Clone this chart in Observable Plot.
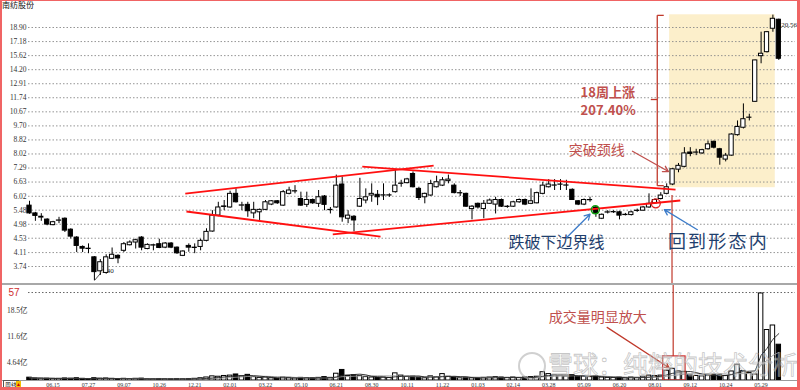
<!DOCTYPE html>
<html><head><meta charset="utf-8">
<script src="https://cdn.jsdelivr.net/npm/d3@7"></script>
<script src="https://cdn.jsdelivr.net/npm/@observablehq/plot@0.6"></script>
<style>
html,body{margin:0;padding:0;background:#fff;}
#wrap{position:relative;width:800px;height:390px;overflow:hidden;background:#fff;}
#wrap svg{position:absolute;left:0;}
.abs{position:absolute;}
</style></head><body>
<div id="wrap"></div>
<script>
// ---- data (weekly bars, index 0..127) ----
const open = [5.65,5.36,5.21,5.14,4.95,5.10,5.17,4.80,4.55,4.27,4.22,3.98,3.62,3.58,3.94,4.02,4.16,4.32,4.40,4.55,
4.21,4.31,4.35,4.25,4.37,4.25,4.02,4.30,4.24,4.27,4.45,4.74,5.28,5.60,5.58,6.12,5.65,5.68,5.36,5.40,
5.49,5.69,5.82,5.65,6.12,6.22,5.91,5.68,5.87,5.72,6.01,5.48,5.58,6.52,5.17,5.24,5.61,5.85,6.05,6.08,
6.05,6.05,6.19,6.55,6.58,7.00,6.33,5.98,6.05,6.40,6.47,6.67,6.47,6.14,6.12,5.52,5.72,5.52,5.72,5.69,
5.87,5.60,5.61,5.78,5.87,5.72,5.74,6.12,6.40,6.47,6.51,6.47,6.29,5.82,5.69,5.86,5.58,5.17,5.39,5.40,
5.40,5.30,5.30,5.45,5.46,5.58,5.74,5.91,6.12,6.52,7.21,7.35,8.10,8.09,8.05,8.28,8.71,8.28,7.72,7.93,
9.11,9.58,10.25,11.42,15.56,15.99,18.74,19.92];
const high = [5.82,5.40,5.35,5.17,5.08,5.22,5.20,4.83,4.58,4.30,4.36,4.00,3.92,4.05,4.24,4.05,4.40,4.45,4.50,4.58,
4.36,4.35,4.50,4.40,4.40,4.27,4.16,4.36,4.36,4.50,4.83,5.46,5.78,5.85,6.23,6.33,5.78,5.78,5.78,5.52,
5.85,5.85,5.85,6.26,6.40,6.47,6.19,6.19,5.91,6.26,6.05,5.58,6.95,6.86,5.46,5.28,6.80,6.33,6.55,6.26,
6.55,6.12,7.23,6.71,6.80,7.10,6.40,6.15,6.71,6.90,6.83,6.95,6.55,6.26,6.15,5.65,5.75,5.85,5.91,5.98,
5.91,5.65,5.82,5.91,5.91,6.33,6.19,6.62,6.74,6.74,6.74,6.71,6.33,5.85,5.91,5.98,5.62,5.34,5.46,5.46,
5.44,5.36,5.44,5.52,5.62,6.12,5.91,6.17,6.55,7.27,7.52,8.37,8.37,8.28,8.28,8.75,8.75,8.33,8.05,9.20,
10.03,11.26,10.50,15.15,18.31,18.40,20.56,20.00];
const low = [5.33,5.08,5.08,4.93,4.93,5.00,4.71,4.51,4.11,4.11,4.08,3.40,3.52,3.55,3.92,3.81,4.11,4.30,4.21,4.16,
4.19,4.16,4.22,4.22,4.22,4.06,4.00,4.12,4.08,4.16,4.42,4.72,5.24,5.46,5.55,5.75,5.46,5.22,5.17,5.11,
5.46,5.65,5.70,5.62,6.08,6.12,5.62,5.58,5.70,5.58,5.46,5.34,5.55,5.05,5.00,4.73,5.58,5.72,5.78,5.65,
5.85,5.98,6.15,6.40,6.55,6.37,5.85,5.72,6.02,6.37,6.43,6.55,6.12,6.01,5.58,5.13,5.52,5.17,5.70,5.34,
5.58,5.55,5.58,5.74,5.65,5.69,5.72,6.08,6.37,6.26,6.26,6.26,5.85,5.65,5.65,5.78,5.22,5.14,5.34,5.36,
5.13,5.27,5.27,5.40,5.44,5.55,5.72,5.87,6.08,6.47,7.06,7.30,7.87,7.93,8.00,8.23,8.30,7.43,7.60,7.90,
9.05,9.50,10.03,11.40,14.78,15.90,18.30,15.12];
const close = [5.36,5.27,5.24,4.97,5.05,5.11,4.77,4.58,4.30,4.22,4.21,3.60,3.85,3.98,4.05,3.95,4.35,4.40,4.47,4.25,
4.33,4.32,4.24,4.37,4.25,4.09,4.14,4.25,4.25,4.45,4.73,5.28,5.58,5.62,6.12,5.78,5.66,5.44,5.49,5.49,
5.78,5.82,5.74,6.19,6.26,6.23,5.65,5.87,5.74,5.98,5.68,5.49,6.47,5.22,5.28,5.11,5.91,5.98,6.12,5.98,
6.06,6.06,6.47,6.56,6.75,6.40,5.95,6.12,6.54,6.62,6.71,6.74,6.15,6.15,5.61,5.61,5.58,5.72,5.85,5.87,
5.61,5.61,5.78,5.87,5.69,5.82,6.15,6.47,6.52,6.48,6.52,6.48,5.87,5.69,5.87,5.87,5.34,5.31,5.40,5.41,
5.28,5.31,5.40,5.46,5.58,5.72,5.87,6.05,6.40,7.23,7.40,8.05,8.02,8.10,8.23,8.56,8.37,7.82,7.93,9.15,
9.63,10.15,10.26,15.12,15.82,18.31,20.05,15.29];
// weekly volume, 亿
const volume = [0.75,0.55,0.5,0.5,0.45,0.45,0.55,0.5,0.6,0.45,0.4,0.6,0.5,0.55,0.45,0.4,0.45,0.4,0.45,0.5,
0.35,0.35,0.4,0.35,0.35,0.4,0.35,0.4,0.45,0.6,0.8,1.1,1.0,1.2,1.3,1.6,1.1,1.5,0.9,0.7,
0.8,0.6,0.5,0.8,0.7,0.6,0.7,0.6,0.6,0.7,0.9,0.7,1.8,2.8,1.2,1.4,1.2,0.9,0.8,0.7,
0.8,0.7,1.9,1.3,1.0,1.0,0.8,0.6,1.1,0.9,1.7,1.0,0.9,0.6,0.7,0.6,0.6,0.7,0.8,0.9,
0.8,0.7,0.8,0.7,0.8,0.9,1.0,2.2,1.7,1.4,1.3,1.1,1.4,1.0,1.1,0.9,1.2,0.8,0.7,0.7,
0.8,0.6,0.8,0.7,1.0,1.3,1.2,1.3,2.6,3.1,2.4,2.3,1.5,1.2,1.1,1.3,1.4,1.5,1.2,2.4,
4.2,2.5,2.0,1.6,23.1,13.4,14.6,9.5];

const yTicks = [3.74,4.11,4.53,4.98,5.48,6.02,6.63,7.29,8.02,8.82,9.70,10.67,11.74,12.91,14.20,15.62,17.18,18.90];
const volTicks = [4.64, 11.6, 18.5];
const xLabels = ["06.15","07.27","09.07","10.26","12.21","02.01","03.22","05.10","06.21","08.30","10.11",
"11.22","01.03","02.14","03.28","05.09","06.20","08.01","09.12","10.24","05.29"];
const xLabelIdx = xLabels.map((_, k) => 4 + 6 * k);

// pattern boundary lines (week index, price)
const patternLines = [
  {x1: 26.4, y1: 6.13, x2: 68.5, y2: 7.41},
  {x1: 56.4, y1: 7.36, x2: 109.5, y2: 6.30},
  {x1: 26.6, y1: 5.43, x2: 59.5, y2: 4.58},
  {x1: 51.4, y1: 4.65, x2: 110.3, y2: 5.85}
];
const rallyBox = [{x1: 108.5, x2: 126.4, y1: 6.38, y2: 20.6}];
const bracket = [
  {x1: 106.4, y1: 20.52, x2: 106.4, y2: 6.47},
  {x1: 106.4, y1: 20.52, x2: 107.5, y2: 20.52},
  {x1: 106.4, y1: 6.47, x2: 107.5, y2: 6.47},
  {x1: 105.3, y1: 11.6, x2: 106.4, y2: 11.6}
];
const redNotes = [
  {x: 93.4, y: 12.17, t: "18周上涨"},
  {x: 93.4, y: 10.77, t: "207.40%"}
];
const breakNote = [{x: 91.4, y: 8.21, t: "突破颈线"}];
const blueNotes = [
  {x: 81.2, y: 4.40, t: "跌破下边界线", fs: 16, ls: 0},
  {x: 108.2, y: 4.40, t: "回到形态内", fs: 18, ls: 2.2}
];
const redArrows = [{x1: 102.2, y1: 8.17, x2: 108.3, y2: 7.12}];
const blueArrows = [
  {x1: 91.1, y1: 4.56, x2: 95.0, y2: 5.33},
  {x1: 113.2, y1: 4.80, x2: 107.6, y2: 5.50}
];
const volNote = [{x: 88.0, y: 16.6, t: "成交量明显放大"}];
const volArrow = [{x1: 97.9, y1: 14.1, x2: 108.4, y2: 3.4}];
const volBox = [{x1: 107.4, x2: 111.2, y1: 0, y2: 6.4}];

const bars = open.map((o, i) => ({i, o, h: high[i], l: low[i], c: close[i], v: volume[i], up: close[i] >= open[i]}));

const xScale = {type: "linear", domain: [0, 127], range: [29, 778.3], axis: null};
const cjk = "Noto Sans CJK SC";
const tickFont = "Liberation Serif, Noto Sans CJK SC";

const price = Plot.plot({
  width: 800, height: 284,
  marginLeft: 28, marginRight: 5, marginTop: 8, marginBottom: 0,
  x: xScale,
  y: {type: "log", domain: [3.74, 18.90], range: [266, 27], axis: null},
  style: {fontFamily: tickFont, fontSize: "7.5px", color: "#222", background: "transparent"},
  marks: [
    Plot.rect(rallyBox, {x1: "x1", x2: "x2", y1: "y1", y2: "y2", fill: "#fcefcb"}),
    Plot.gridY(yTicks, {stroke: "#8a8a8a", strokeOpacity: 0.9, strokeDasharray: "1.5,2"}),
    Plot.axisY(yTicks, {anchor: "left", tickSize: 0, tickPadding: 2, tickFormat: d3.format(".2f"), fill: "#333"}),
    Plot.text([3.40], {x: 12.2, y: 3.64, text: d => d3.format(".2f")(d), textAnchor: "start", fontSize: 7, fill: "#222"}),
    Plot.link([{x1: 11, y1: 3.40, x2: 12.1, y2: 3.58}], {x1: "x1", y1: "y1", x2: "x2", y2: "y2", stroke: "#222", strokeWidth: 0.8}),
    Plot.ruleX(bars, {x: "i", y1: "l", y2: "h", stroke: "#000", strokeWidth: 1}),
    Plot.rect(bars, {filter: d => d.up, x1: d => d.i - 0.36, x2: d => d.i + 0.36, y1: "o", y2: "c", fill: "#fff", stroke: "#000", strokeWidth: 1}),
    Plot.rect(bars, {filter: d => !d.up, x1: d => d.i - 0.36, x2: d => d.i + 0.36, y1: "o", y2: "c", fill: "#000", stroke: "#000", strokeWidth: 1}),
    Plot.text([20.56], {x: 127.4, y: 19.3, text: d => d3.format(".2f")(d), textAnchor: "start", fontSize: 7, fill: "#222"}),
    Plot.link(patternLines, {x1: "x1", y1: "y1", x2: "x2", y2: "y2", stroke: "#ff1010", strokeWidth: 1.8}),
    Plot.link(bracket, {x1: "x1", y1: "y1", x2: "x2", y2: "y2", stroke: "#c0392b", strokeWidth: 1.3}),
    Plot.ruleX([108.9], {y1: 6.05, y2: 3.3, stroke: "#c0392b", strokeWidth: 1.2}),
    Plot.dot([{x: 95.9, y: 5.49}], {x: "x", y: "y", r: 4, stroke: "#10a010", strokeWidth: 1.5, fill: "none"}),
    Plot.dot([{x: 106.15, y: 5.74}], {x: "x", y: "y", r: 4.5, stroke: "#e02020", strokeWidth: 1.3, fill: "none"}),
    Plot.text(redNotes, {x: "x", y: "y", text: "t", textAnchor: "start", fontFamily: cjk, fontSize: 13, fontWeight: "bold", fill: "#c0504d"}),
    Plot.text(breakNote, {x: "x", y: "y", text: "t", textAnchor: "start", fontFamily: cjk, fontSize: 14, fill: "#c0504d"}),
    Plot.arrow(redArrows, {x1: "x1", y1: "y1", x2: "x2", y2: "y2", stroke: "#c0504d", strokeWidth: 1.3, headLength: 7}),
    Plot.text(blueNotes, {x: "x", y: "y", text: "t", textAnchor: "start", fontFamily: cjk, fontSize: "fs", fill: "#1f3f6e",
      render(index, scales, values, dims, ctx, next) {
        const g = next(index, scales, values, dims, ctx);
        d3.select(g).selectAll("text").attr("letter-spacing", (_, k) => blueNotes[index[k]].ls + "px");
        return g;
      }}),
    Plot.arrow(blueArrows, {x1: "x1", y1: "y1", x2: "x2", y2: "y2", stroke: "#3d7cc9", strokeWidth: 1.3, headLength: 7})
  ]
});
price.style.top = "0px";

const volTop = 23.35;
const vol = Plot.plot({
  width: 800, height: 106,
  marginLeft: 28, marginRight: 5, marginTop: 0, marginBottom: 10,
  x: xScale,
  y: {domain: [0, 18.5], range: [96, 26.3], axis: null},
  style: {fontFamily: tickFont, fontSize: "7.5px", color: "#222", background: "transparent"},
  marks: [
    Plot.ruleY([volTop], {stroke: "#666", strokeDasharray: "1.5,2"}),
    Plot.text([volTop], {y: d => d, frameAnchor: "left", dx: -20, text: () => "57", textAnchor: "start", fontSize: 10, fill: "#d03030", fontFamily: "Liberation Sans"}),
    Plot.axisY(volTicks, {anchor: "left", tickSize: 0, tickPadding: 1, tickFormat: d => d + "亿", fill: "#333"}),
    Plot.axisX(xLabelIdx, {anchor: "bottom", tickSize: 0, tickPadding: 2, fontSize: 6, fill: "#333", tickFormat: d => xLabels[xLabelIdx.indexOf(d)]}),
    Plot.rect(bars, {filter: d => d.up, x1: d => d.i - 0.38, x2: d => d.i + 0.38, y1: 0, y2: "v", fill: "#fff", stroke: "#000", strokeWidth: 1}),
    Plot.rect(bars, {filter: d => !d.up, x1: d => d.i - 0.38, x2: d => d.i + 0.38, y1: 0, y2: "v", fill: "#000", stroke: "#000", strokeWidth: 1}),
    Plot.line(bars, Plot.windowY({k: 10, anchor: "end"}, {x: "i", y: "v", stroke: "#9a9a9a", strokeWidth: 0.9})),
    Plot.line(bars, Plot.windowY({k: 5, anchor: "end"}, {x: "i", y: "v", stroke: "#222", strokeWidth: 0.9})),
    Plot.ruleX([109.1], {y1: 25.5, y2: 6.4, stroke: "#c0392b", strokeWidth: 1.2}),
    Plot.rect(volBox, {x1: "x1", x2: "x2", y1: "y1", y2: "y2", fill: "none", stroke: "#d03030", strokeWidth: 1.2}),
    Plot.text(volNote, {x: "x", y: "y", text: "t", textAnchor: "start", fontFamily: cjk, fontSize: 14, fill: "#c0504d"}),
    Plot.arrow(volArrow, {x1: "x1", y1: "y1", x2: "x2", y2: "y2", stroke: "#c0392b", strokeWidth: 1.2, headLength: 6})
  ]
});
vol.style.top = "284px";

const wrap = document.getElementById("wrap");
wrap.appendChild(price);
wrap.appendChild(vol);

function addDiv(html, css) {
  const d = document.createElement("div");
  d.className = "abs";
  d.style.cssText = css;
  d.innerHTML = html;
  wrap.appendChild(d);
  return d;
}
// panel separators
addDiv("", "left:2px;top:283px;width:795px;height:2px;background:#a8a8a8;");
addDiv("", "left:2px;top:380px;width:795px;height:1px;background:#9a9a9a;");
// title and period
addDiv("南纺股份", "left:2px;top:0px;font:8px 'Noto Sans CJK SC';color:#111;line-height:10px;");
addDiv("周线", "left:3px;top:380px;font:6px 'Noto Sans CJK SC';color:#111;line-height:7px;border:1px solid #555;padding:0 1px;");
addDiv("▲", "left:16px;top:381px;width:5px;height:6px;background:#f5c000;color:#c00;font:5px sans-serif;line-height:6px;text-align:center;");
// watermark
addDiv("", "left:518px;top:352px;width:24px;height:24px;border:2px solid rgba(170,170,170,0.55);border-radius:50%;");
addDiv("雪球：纯粹的技术分析", "left:548px;top:346px;font:25px 'Noto Sans CJK SC';color:rgba(255,255,255,0.35);-webkit-text-stroke:0.8px rgba(160,160,160,0.6);white-space:nowrap;line-height:34px;");
// outer frame
addDiv("", "left:0;top:0;width:800px;height:390px;box-sizing:border-box;border-style:solid;border-color:#f06464;border-width:1px 3px 3px 2px;pointer-events:none;");
</script>
</body></html>
